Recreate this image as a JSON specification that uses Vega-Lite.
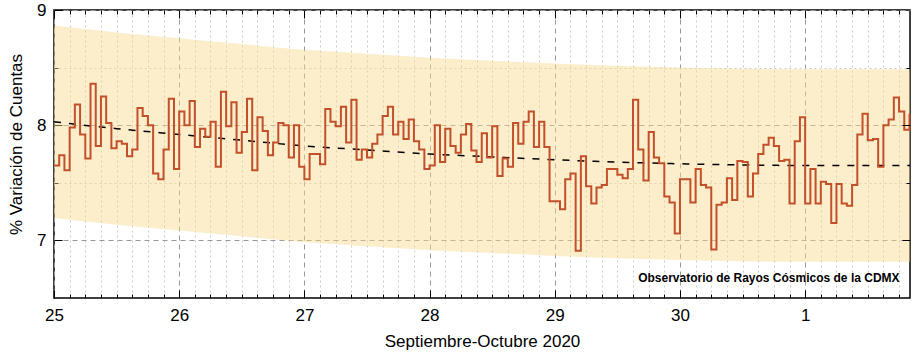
{
  "$schema": "https://vega.github.io/schema/vega-lite/v6.json",
  "width": 856,
  "height": 288,
  "autosize": {"type": "none"},
  "padding": {"left": 54, "top": 10, "right": 13, "bottom": 59},
  "config": {
    "view": {"stroke": "black", "strokeWidth": 1.5},
    "font": "Liberation Sans",
    "axis": {
      "labelFont": "Liberation Sans",
      "titleFont": "Liberation Sans",
      "labelFontSize": 17,
      "titleFontSize": 17,
      "titleFontWeight": "normal",
      "labelColor": "black",
      "titleColor": "black",
      "domain": false,
      "tickColor": "black"
    }
  },
  "datasets": {
    "obs": [
      {"t": 0, "v": 7.65}, {"t": 1, "v": 7.74}, {"t": 2, "v": 7.61}, {"t": 3, "v": 7.98}, {"t": 4, "v": 8.18}, {"t": 5, "v": 7.92},
      {"t": 6, "v": 7.71}, {"t": 7, "v": 8.36}, {"t": 8, "v": 7.82}, {"t": 9, "v": 8.25}, {"t": 10, "v": 8.02}, {"t": 11, "v": 7.80},
      {"t": 12, "v": 7.86}, {"t": 13, "v": 7.84}, {"t": 14, "v": 7.73}, {"t": 15, "v": 7.79}, {"t": 16, "v": 8.15}, {"t": 17, "v": 8.08},
      {"t": 18, "v": 8.00}, {"t": 19, "v": 7.58}, {"t": 20, "v": 7.53}, {"t": 21, "v": 7.79}, {"t": 22, "v": 8.23}, {"t": 23, "v": 7.62},
      {"t": 24, "v": 8.12}, {"t": 25, "v": 8.00}, {"t": 26, "v": 8.21}, {"t": 27, "v": 7.81}, {"t": 28, "v": 7.97}, {"t": 29, "v": 7.90},
      {"t": 30, "v": 8.03}, {"t": 31, "v": 7.64}, {"t": 32, "v": 8.29}, {"t": 33, "v": 7.99}, {"t": 34, "v": 8.20}, {"t": 35, "v": 7.76},
      {"t": 36, "v": 7.94}, {"t": 37, "v": 8.23}, {"t": 38, "v": 7.61}, {"t": 39, "v": 8.07}, {"t": 40, "v": 7.95}, {"t": 41, "v": 7.74},
      {"t": 42, "v": 7.85}, {"t": 43, "v": 8.02}, {"t": 44, "v": 8.00}, {"t": 45, "v": 7.72}, {"t": 46, "v": 8.00}, {"t": 47, "v": 7.64},
      {"t": 48, "v": 7.53}, {"t": 49, "v": 7.75}, {"t": 50, "v": 7.75}, {"t": 51, "v": 7.66}, {"t": 52, "v": 8.14}, {"t": 53, "v": 8.03},
      {"t": 54, "v": 7.99}, {"t": 55, "v": 8.16}, {"t": 56, "v": 7.85}, {"t": 57, "v": 8.22}, {"t": 58, "v": 7.70}, {"t": 59, "v": 7.79},
      {"t": 60, "v": 7.72}, {"t": 61, "v": 7.84}, {"t": 62, "v": 7.92}, {"t": 63, "v": 8.08}, {"t": 64, "v": 8.16}, {"t": 65, "v": 7.92},
      {"t": 66, "v": 8.03}, {"t": 67, "v": 7.88}, {"t": 68, "v": 8.05}, {"t": 69, "v": 7.86}, {"t": 70, "v": 7.79}, {"t": 71, "v": 7.62},
      {"t": 72, "v": 7.65}, {"t": 73, "v": 8.00}, {"t": 74, "v": 7.68}, {"t": 75, "v": 7.97}, {"t": 76, "v": 7.82}, {"t": 77, "v": 7.76},
      {"t": 78, "v": 7.92}, {"t": 79, "v": 8.01}, {"t": 80, "v": 7.78}, {"t": 81, "v": 7.68}, {"t": 82, "v": 7.93}, {"t": 83, "v": 7.72},
      {"t": 84, "v": 7.99}, {"t": 85, "v": 7.56}, {"t": 86, "v": 7.71}, {"t": 87, "v": 7.64}, {"t": 88, "v": 8.02}, {"t": 89, "v": 7.84},
      {"t": 90, "v": 8.03}, {"t": 91, "v": 8.12}, {"t": 92, "v": 7.81}, {"t": 93, "v": 8.03}, {"t": 94, "v": 7.81}, {"t": 95, "v": 7.34},
      {"t": 96, "v": 7.34}, {"t": 97, "v": 7.27}, {"t": 98, "v": 7.53}, {"t": 99, "v": 7.58}, {"t": 100, "v": 6.91}, {"t": 101, "v": 7.73},
      {"t": 102, "v": 7.47}, {"t": 103, "v": 7.32}, {"t": 104, "v": 7.46}, {"t": 105, "v": 7.48}, {"t": 106, "v": 7.62}, {"t": 107, "v": 7.62},
      {"t": 108, "v": 7.57}, {"t": 109, "v": 7.54}, {"t": 110, "v": 7.62}, {"t": 111, "v": 8.22}, {"t": 112, "v": 7.79}, {"t": 113, "v": 7.52},
      {"t": 114, "v": 7.94}, {"t": 115, "v": 7.72}, {"t": 116, "v": 7.67}, {"t": 117, "v": 7.38}, {"t": 118, "v": 7.33}, {"t": 119, "v": 7.06},
      {"t": 120, "v": 7.53}, {"t": 121, "v": 7.53}, {"t": 122, "v": 7.33}, {"t": 123, "v": 7.62}, {"t": 124, "v": 7.48}, {"t": 125, "v": 7.46},
      {"t": 126, "v": 6.92}, {"t": 127, "v": 7.31}, {"t": 128, "v": 7.33}, {"t": 129, "v": 7.54}, {"t": 130, "v": 7.35}, {"t": 131, "v": 7.69},
      {"t": 132, "v": 7.68}, {"t": 133, "v": 7.38}, {"t": 134, "v": 7.58}, {"t": 135, "v": 7.75}, {"t": 136, "v": 7.83}, {"t": 137, "v": 7.89},
      {"t": 138, "v": 7.82}, {"t": 139, "v": 7.69}, {"t": 140, "v": 7.70}, {"t": 141, "v": 7.32}, {"t": 142, "v": 7.86}, {"t": 143, "v": 8.07},
      {"t": 144, "v": 7.32}, {"t": 145, "v": 7.62}, {"t": 146, "v": 7.32}, {"t": 147, "v": 7.51}, {"t": 148, "v": 7.49}, {"t": 149, "v": 7.15},
      {"t": 150, "v": 7.49}, {"t": 151, "v": 7.32}, {"t": 152, "v": 7.30}, {"t": 153, "v": 7.48}, {"t": 154, "v": 7.92}, {"t": 155, "v": 8.10},
      {"t": 156, "v": 7.87}, {"t": 157, "v": 7.88}, {"t": 158, "v": 7.64}, {"t": 159, "v": 8.00}, {"t": 160, "v": 8.05}, {"t": 161, "v": 8.24},
      {"t": 162, "v": 8.12}, {"t": 163, "v": 7.96}, {"t": 164, "v": 8.10}
    ],
    "fit": [
      {"t": 0, "fit": 8.03, "lo": 7.195, "hi": 8.865},
      {"t": 12, "fit": 7.97, "lo": 7.135, "hi": 8.805},
      {"t": 24, "fit": 7.92, "lo": 7.085, "hi": 8.755},
      {"t": 36, "fit": 7.87, "lo": 7.035, "hi": 8.705},
      {"t": 48, "fit": 7.82, "lo": 6.985, "hi": 8.655},
      {"t": 60, "fit": 7.785, "lo": 6.95, "hi": 8.62},
      {"t": 72, "fit": 7.75, "lo": 6.915, "hi": 8.585},
      {"t": 84, "fit": 7.725, "lo": 6.89, "hi": 8.56},
      {"t": 96, "fit": 7.70, "lo": 6.865, "hi": 8.535},
      {"t": 108, "fit": 7.68, "lo": 6.845, "hi": 8.515},
      {"t": 120, "fit": 7.665, "lo": 6.83, "hi": 8.50},
      {"t": 132, "fit": 7.655, "lo": 6.82, "hi": 8.49},
      {"t": 144, "fit": 7.65, "lo": 6.815, "hi": 8.485},
      {"t": 156, "fit": 7.65, "lo": 6.815, "hi": 8.485},
      {"t": 164.1, "fit": 7.65, "lo": 6.815, "hi": 8.485}
    ],
    "note": [
      {"t": 162.1, "v": 6.67, "label": "Observatorio de Rayos Cósmicos de la CDMX"}
    ]
  },
  "layer": [
    {
      "data": {"name": "fit"},
      "mark": {"type": "area", "color": "#fbd98c", "opacity": 0.45, "interpolate": "monotone"},
      "encoding": {
        "x": {
          "field": "t", "type": "quantitative",
          "scale": {"domain": [0, 164.1], "nice": false, "zero": false},
          "axis": {
            "orient": "bottom",
            "values": [0,3,6,9,12,15,18,21,24,27,30,33,36,39,42,45,48,51,54,57,60,63,66,69,72,75,78,81,84,87,90,93,96,99,102,105,108,111,114,117,120,123,126,129,132,135,138,141,144,147,150,153,156,159,162],
            "labelExpr": "datum.value % 24 === 0 ? ['25','26','27','28','29','30','1'][datum.value / 24] : ''",
            "labelOverlap": false,
            "labelFlush": false,
            "labelPadding": 17,
            "grid": true,
            "gridDash": {"condition": {"test": "datum.value % 24 === 0", "value": [5, 4]}, "value": [2, 3]},
            "gridColor": {"condition": {"test": "datum.value % 24 === 0", "value": "#999999"}, "value": "#cccccc"},
            "tickSize": {"condition": {"test": "datum.value % 24 === 0", "value": -8}, "value": -4},
            "title": "Septiembre-Octubre 2020",
            "titlePadding": 6
          }
        },
        "y": {
          "field": "lo", "type": "quantitative",
          "scale": {"domain": [6.5, 9], "nice": false, "zero": false},
          "axis": {
            "orient": "left",
            "values": [7, 7.5, 8, 8.5, 9],
            "labelExpr": "datum.value % 1 === 0 ? '' + datum.value : ''",
            "labelOverlap": false,
            "labelPadding": 16,
            "grid": true,
            "gridDash": {"condition": {"test": "datum.value % 1 === 0", "value": [5, 4]}, "value": [2, 3]},
            "gridColor": {"condition": {"test": "datum.value % 1 === 0", "value": "#999999"}, "value": "#cccccc"},
            "tickSize": {"condition": {"test": "datum.value % 1 === 0", "value": -8}, "value": -4},
            "title": "% Variación de Cuentas",
            "titlePadding": 11,
            "titleY": 134
          }
        },
        "y2": {"field": "hi"}
      }
    },
    {
      "data": {"name": "fit"},
      "mark": {"type": "line", "color": "black", "strokeWidth": 1.5, "strokeDash": [7, 8], "interpolate": "monotone"},
      "encoding": {
        "x": {
          "field": "t", "type": "quantitative",
          "axis": {
            "orient": "top",
            "values": [0,3,6,9,12,15,18,21,24,27,30,33,36,39,42,45,48,51,54,57,60,63,66,69,72,75,78,81,84,87,90,93,96,99,102,105,108,111,114,117,120,123,126,129,132,135,138,141,144,147,150,153,156,159,162],
            "labels": false,
            "grid": false,
            "title": null,
            "zindex": 1,
            "tickSize": {"condition": {"test": "datum.value % 24 === 0", "value": -8}, "value": -4}
          }
        },
        "y": {
          "field": "fit", "type": "quantitative",
          "axis": {
            "orient": "right",
            "values": [7, 7.5, 8, 8.5],
            "labels": false,
            "grid": false,
            "title": null,
            "zindex": 1,
            "tickSize": {"condition": {"test": "datum.value % 1 === 0", "value": -8}, "value": -4}
          }
        }
      }
    },
    {
      "data": {"name": "obs"},
      "mark": {"type": "line", "interpolate": "step-after", "color": "#c2502a", "strokeWidth": 2},
      "encoding": {
        "x": {"field": "t", "type": "quantitative", "axis": null},
        "y": {"field": "v", "type": "quantitative", "axis": null}
      }
    },
    {
      "data": {"name": "note"},
      "mark": {"type": "text", "align": "right", "baseline": "middle", "font": "Liberation Sans", "fontSize": 12, "fontWeight": "bold", "color": "black"},
      "encoding": {
        "x": {"field": "t", "type": "quantitative", "axis": null},
        "y": {"field": "v", "type": "quantitative", "axis": null},
        "text": {"field": "label"}
      }
    }
  ],
  "resolve": {"axis": {"x": "independent", "y": "independent"}}
}
